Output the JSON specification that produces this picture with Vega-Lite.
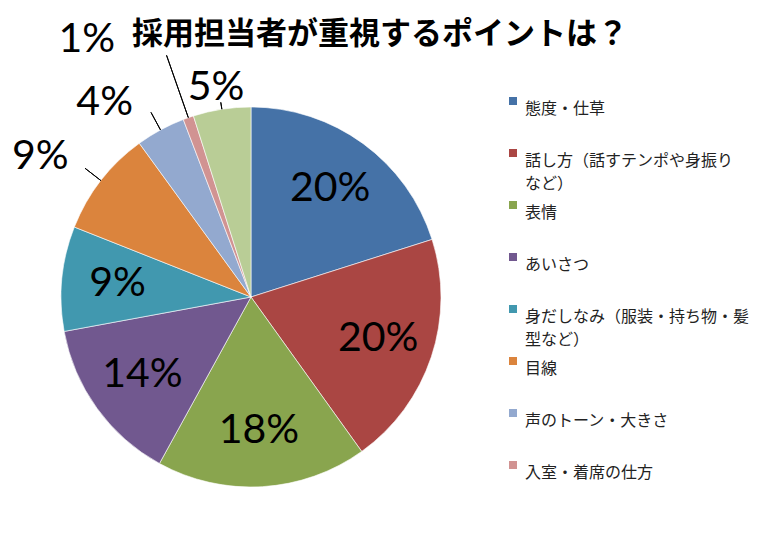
{
  "$schema": "https://vega.github.io/schema/vega-lite/v6.json",
  "description": "採用担当者が重視するポイント（円グラフ）",
  "autosize": "none",
  "width": 502,
  "height": 478,
  "padding": {"left": 0, "top": 58, "right": 266, "bottom": 3},
  "background": "white",
  "title": {
    "text": "採用担当者が重視するポイントは？",
    "font": "Noto Sans CJK JP",
    "fontSize": 31,
    "fontWeight": "bold",
    "color": "black",
    "anchor": "middle",
    "dx": 129,
    "offset": -42
  },
  "data": {
    "values": [
      {"順": 1, "項目": "態度・仕草", "割合": 0.201},
      {"順": 2, "項目": "話し方（話すテンポや身振りなど）", "割合": 0.200},
      {"順": 3, "項目": "表情", "割合": 0.179},
      {"順": 4, "項目": "あいさつ", "割合": 0.141},
      {"順": 5, "項目": "身だしなみ（服装・持ち物・髪型など）", "割合": 0.089},
      {"順": 6, "項目": "目線", "割合": 0.090},
      {"順": 7, "項目": "声のトーン・大きさ", "割合": 0.042},
      {"順": 8, "項目": "入室・着席の仕方", "割合": 0.009},
      {"順": 9, "項目": "その他", "割合": 0.049}
    ]
  },
  "encoding": {
    "theta": {"field": "割合", "type": "quantitative", "stack": true},
    "order": {"field": "順", "type": "quantitative"}
  },
  "layer": [
    {
      "mark": {"type": "arc", "outerRadius": 190, "stroke": "white", "strokeWidth": 0.6},
      "encoding": {
        "color": {
          "field": "項目",
          "type": "nominal",
          "sort": null,
          "scale": {
            "domain": ["態度・仕草", "話し方（話すテンポや身振りなど）", "表情", "あいさつ", "身だしなみ（服装・持ち物・髪型など）", "目線", "声のトーン・大きさ", "入室・着席の仕方", "その他"],
            "range": ["#4572A7", "#AA4643", "#89A54E", "#71588F", "#4198AF", "#DB843D", "#93A9CF", "#D19392", "#B9CD96"]
          },
          "legend": {
            "title": null,
            "orient": "none",
            "legendX": 505,
            "legendY": 35,
            "values": ["態度・仕草", "話し方（話すテンポや身振りなど）", "表情", "あいさつ", "身だしなみ（服装・持ち物・髪型など）", "目線", "声のトーン・大きさ", "入室・着席の仕方"],
            "symbolType": "square",
            "symbolSize": 64,
            "symbolStrokeWidth": 0,
            "labelFont": "Noto Sans CJK JP",
            "labelFontSize": 16,
            "labelColor": "#222222",
            "labelLimit": 300,
            "labelOffset": 4,
            "labelBaseline": "top",
            "gridAlign": "all",
            "rowPadding": 5,
            "labelExpr": "datum.label == '話し方（話すテンポや身振りなど）' ? ['話し方（話すテンポや身振り', 'など）'] : datum.label == '身だしなみ（服装・持ち物・髪型など）' ? ['身だしなみ（服装・持ち物・髪', '型など）'] : datum.label"
          }
        }
      }
    },
    {
      "mark": {"type": "arc", "innerRadius": 190, "outerRadius": 210, "padAngle": 3.1, "fillOpacity": 0, "stroke": "black", "strokeWidth": 1},
      "encoding": {
        "strokeOpacity": {
          "condition": {"test": "datum['項目'] == '目線' || datum['項目'] == '声のトーン・大きさ'", "value": 1},
          "value": 0
        }
      }
    },
    {
      "mark": {"type": "arc", "innerRadius": 190, "outerRadius": 256, "padAngle": 3.1, "fillOpacity": 0, "stroke": "black", "strokeWidth": 1},
      "encoding": {
        "strokeOpacity": {
          "condition": {"test": "datum['項目'] == '入室・着席の仕方'", "value": 1},
          "value": 0
        }
      }
    },
    {
      "mark": {"type": "arc", "innerRadius": 190, "outerRadius": 197, "padAngle": 3.1, "fillOpacity": 0, "stroke": "black", "strokeWidth": 1},
      "encoding": {
        "strokeOpacity": {
          "condition": {"test": "datum['項目'] == 'その他'", "value": 1},
          "value": 0
        }
      }
    },
    {
      "mark": {"type": "text", "radius": 134, "font": "Lato", "fontSize": 41, "color": "black"},
      "encoding": {
        "text": {
          "condition": {"test": "datum['割合'] < 0.06 || datum['項目'] == '目線'", "value": ""},
          "field": "割合",
          "type": "quantitative",
          "format": ".0%"
        }
      }
    },
    {
      "mark": {"type": "text", "radius": 240, "font": "Lato", "fontSize": 41, "color": "black", "dx": -21, "dy": 7},
      "encoding": {
        "text": {
          "condition": {"test": "datum['項目'] != '目線'", "value": ""},
          "field": "割合",
          "type": "quantitative",
          "format": ".0%"
        }
      }
    },
    {
      "mark": {"type": "text", "radius": 240, "font": "Lato", "fontSize": 41, "color": "black", "dx": -32, "dy": 17},
      "encoding": {
        "text": {
          "condition": {"test": "datum['項目'] != '声のトーン・大きさ'", "value": ""},
          "field": "割合",
          "type": "quantitative",
          "format": ".0%"
        }
      }
    },
    {
      "mark": {"type": "text", "radius": 240, "font": "Lato", "fontSize": 41, "color": "black", "dx": -85, "dy": -30},
      "encoding": {
        "text": {
          "condition": {"test": "datum['項目'] != '入室・着席の仕方'", "value": ""},
          "field": "割合",
          "type": "quantitative",
          "format": ".0%"
        }
      }
    },
    {
      "mark": {"type": "text", "radius": 215, "font": "Lato", "fontSize": 41, "color": "black", "dx": -2, "dy": 3},
      "encoding": {
        "text": {
          "condition": {"test": "datum['項目'] != 'その他'", "value": ""},
          "field": "割合",
          "type": "quantitative",
          "format": ".0%"
        }
      }
    }
  ],
  "config": {
    "view": {"stroke": null},
    "style": {"guide-label": {"lineHeight": 23}}
  }
}
